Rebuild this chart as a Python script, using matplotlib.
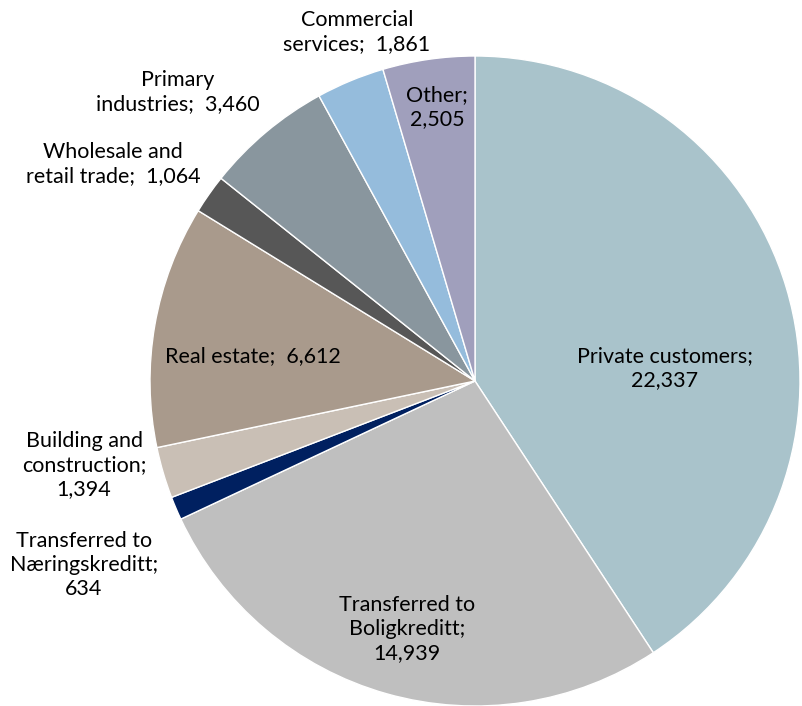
import matplotlib.pyplot as plt

sectors = ["Private customers", "Transferred to\nBoligkreditt", "Transferred to\nNæringskreditt",
           "Building and\nconstruction", "Real estate", "Wholesale and\nretail trade",
           "Primary\nindustries", "Commercial\nservices", "Other"]
loans = [22337, 14939, 634, 1394, 6612, 1064, 3460, 1861, 2505]
colors = ["#a9c3cb", "#bfbfbf", "#002060", "#c9bfb5", "#a99a8c",
          "#575757", "#89969e", "#95bcdc", "#a09fbc"]

# label text as "name; value" with the line break chosen per sector
label_text = [
    "Private customers;\n22,337",
    "Transferred to\nBoligkreditt;\n14,939",
    "Transferred to\nNæringskreditt;\n634",
    "Building and\nconstruction;\n1,394",
    "Real estate;  6,612",
    "Wholesale and\nretail trade;  1,064",
    "Primary\nindustries;  3,460",
    "Commercial\nservices;  1,861",
    "Other;\n2,505",
]
# label anchor points (pixels from top-left)
label_xy = [(665, 368), (407, 629), (84, 565), (84, 465), (253, 356),
            (113, 164), (178, 92), (357, 32), (437, 107)]

W, H = 802, 706
fig = plt.figure(figsize=(W / 100, H / 100), dpi=100)
ax = fig.add_axes([0, 0, 1, 1])

ax.pie(loans, colors=colors, startangle=90, counterclock=False,
       center=(475, H - 381), radius=325, frame=True,
       wedgeprops=dict(edgecolor="white", linewidth=1))
ax.set_xlim(0, W)
ax.set_ylim(0, H)
ax.set_aspect("equal")
ax.axis("off")

for txt, (x, y) in zip(label_text, label_xy):
    ax.text(x, H - y, txt, ha="center", va="center", multialignment="center",
            fontsize=15.5, family="Lato", linespacing=1.25, color="black")

fig.savefig("out.png", dpi=100)
